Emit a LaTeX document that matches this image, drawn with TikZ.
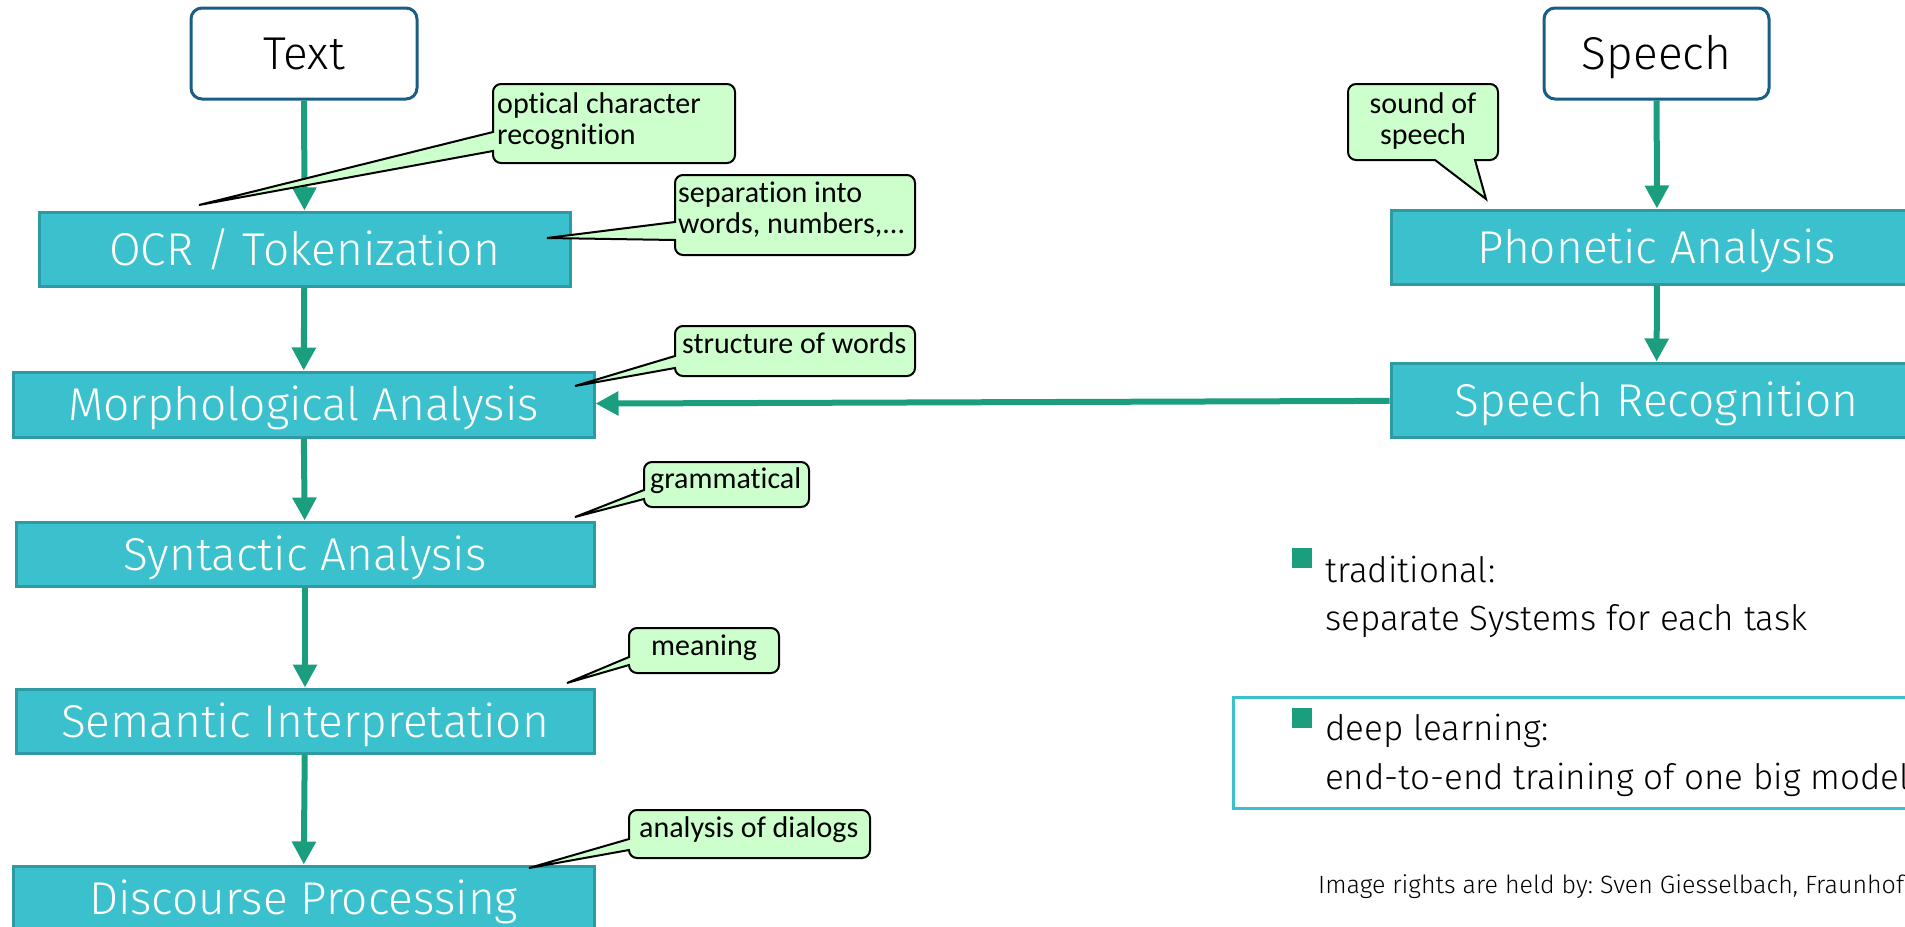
\documentclass[tikz,border=0pt]{standalone}
\usepackage{fontspec}
\setmainfont{Carlito}[RawFeature=-liga]
% thin face for the stage labels and the body text, with its sizes
\IfFontExistsTF{Fira Sans Light}
  {\newfontfamily\thinfont{Fira Sans Light}[RawFeature=-liga]
   \def\stagesize{46}\def\bodysize{35}\def\creditsize{25}}
  {\newfontfamily\thinfont{Carlito}[RawFeature=-liga]
   \def\stagesize{50}\def\bodysize{38}\def\creditsize{27}}
\frenchspacing
\usetikzlibrary{arrows.meta}

\definecolor{flowgreen}{HTML}{1A9E7E}
\definecolor{stagefill}{HTML}{3BC1CD}
\definecolor{stageedge}{HTML}{2E9AA4}
\definecolor{sourceedge}{HTML}{1A5E85}
\definecolor{notefill}{HTML}{CCFFCC}

% speech bubble with its pointer on the left side
% #1 x1, #2 y1, #3 x2, #4 y2, #5 upper base, #6 lower base, #7 tip x, #8 tip y
\newcommand\noteleft[8]{%
  \path[note] (#1+8,#2) -- (#3-8,#2) arc[start angle=270,end angle=360,radius=8]
    -- (#3,#4-8) arc[start angle=0,end angle=90,radius=8]
    -- (#1+8,#4) arc[start angle=90,end angle=180,radius=8]
    -- (#1,#6) -- (#7,#8) -- (#1,#5)
    -- (#1,#2+8) arc[start angle=180,end angle=270,radius=8] -- cycle;}

% speech bubble with its pointer on the bottom side
% #1 x1, #2 y1, #3 x2, #4 y2, #5 left base, #6 right base, #7 tip x, #8 tip y
\newcommand\notebelow[8]{%
  \path[note] (#1+8,#2) -- (#3-8,#2) arc[start angle=270,end angle=360,radius=8]
    -- (#3,#4-8) arc[start angle=0,end angle=90,radius=8]
    -- (#6,#4) -- (#7,#8) -- (#5,#4)
    -- (#1+8,#4) arc[start angle=90,end angle=180,radius=8]
    -- (#1,#2+8) arc[start angle=180,end angle=270,radius=8] -- cycle;}

\begin{document}
\begin{tikzpicture}[x=1pt,y=-1pt,
  stage/.style={rectangle, fill=stagefill, draw=stageedge, line width=3pt,
    text=white, font=\thinfont\fontsize{\stagesize}{56}\selectfont,
    text height=32pt, text depth=0pt, inner sep=0pt},
  source/.style={rectangle, rounded corners=11pt, fill=white, draw=sourceedge,
    line width=3pt, font=\thinfont\fontsize{\stagesize}{56}\selectfont,
    text height=32pt, text depth=0pt, inner sep=0pt},
  flow/.style={draw=flowgreen, line width=6pt, -{Triangle[length=23pt,width=23pt]}},
  note/.style={fill=notefill, draw=black, line width=2pt, line join=miter},
  notetext/.style={inner sep=0pt, font=\fontsize{30}{31}\selectfont},
  bodytext/.style={inner sep=0pt, font=\thinfont\fontsize{\bodysize}{42}\selectfont},
  bulletmark/.style={rectangle, fill=flowgreen, inner sep=0pt,
    minimum width=19.5pt, minimum height=20pt}]

\useasboundingbox (0,0) rectangle (1905,926);
\clip (0,0) rectangle (1905,926);

% inputs
\node[source, minimum width=226pt, minimum height=91pt] (text) at (304,53.5) {Text};
\node[source, minimum width=225pt, minimum height=91pt] (speech) at (1656.5,53.5) {Speech};

% text pipeline
\node[stage, minimum width=531pt, minimum height=74pt] (ocr) at (304.5,249) {OCR / Tokenization};
\node[stage, minimum width=581pt, minimum height=65pt] (morph) at (303.5,404.5) {Morphological Analysis};
\node[stage, minimum width=578pt, minimum height=64pt] (syn) at (305,554) {Syntactic Analysis};
\node[stage, minimum width=578pt, minimum height=64pt] (sem) at (305,721) {Semantic Interpretation};
\node[stage, minimum width=581pt, minimum height=64pt] (disc) at (303.5,898) {Discourse Processing};

% speech pipeline
\node[stage, minimum width=532pt, minimum height=74pt] (phon) at (1657,247) {Phonetic Analysis};
\node[stage, minimum width=531pt, minimum height=74pt] (srec) at (1656.5,400) {Speech Recognition};

% connectors
\draw[flow] (text) -- (ocr);
\draw[flow] (ocr) -- (morph);
\draw[flow] (morph) -- (syn);
\draw[flow] (syn) -- (sem);
\draw[flow] (sem) -- (disc);
\draw[flow] (speech) -- (phon);
\draw[flow] (phon) -- (srec);
\draw[flow] (srec) -- (morph);

% annotations
\noteleft{493}{84}{735}{163}{132}{151}{199}{205}
\node[notetext, anchor=base west, align=left] (n1) at (497,144) {optical character\\recognition};
\noteleft{675}{175}{915}{255}{222}{240}{547}{238}
\node[notetext, anchor=base west, align=left] (n2) at (678,233) {separation into\\words, numbers,...};
\noteleft{675}{326}{915}{376}{356}{368}{575}{386}
\node[notetext, anchor=base west] (n3) at (682,353) {structure of words};
\noteleft{644}{462}{809}{507}{490}{499}{575}{517}
\node[notetext, anchor=base west] (n4) at (650,488) {grammatical};
\noteleft{629}{628}{779}{673}{657}{665}{567}{683}
\node[notetext, anchor=base] (n5) at (704,655) {meaning};
\noteleft{629}{810}{870}{858}{839}{850}{529}{868}
\node[notetext, anchor=base west] (n6) at (639,837) {analysis of dialogs};
\notebelow{1348}{84}{1498}{160}{1435}{1475}{1486}{199}
\node[notetext, anchor=base, align=center] (n7) at (1423,144) {sound of\\speech};

% approaches
\node[bulletmark] (m1) at (1301.75,558) {};
\node[bodytext, anchor=base west] (t1) at (1325,582) {traditional:};
\node[bodytext, anchor=base west] (t2) at (1325,630) {separate Systems for each task};
\node[draw=stagefill, line width=3pt, inner sep=0pt, minimum width=767pt, minimum height=111pt] (dlbox) at (1616.5,752.5) {};
\node[bulletmark] (m2) at (1301.75,717.5) {};
\node[bodytext, anchor=base west] (t3) at (1325,740) {deep learning:};
\node[bodytext, anchor=base west] (t4) at (1325,789) {end-to-end training of one big model};

\node[inner sep=0pt, font=\thinfont\fontsize{\creditsize}{30}\selectfont, anchor=base west] (credit) at (1318,893) {Image rights are held by: Sven Giesselbach, Fraunhofer};
\end{tikzpicture}
\end{document}
